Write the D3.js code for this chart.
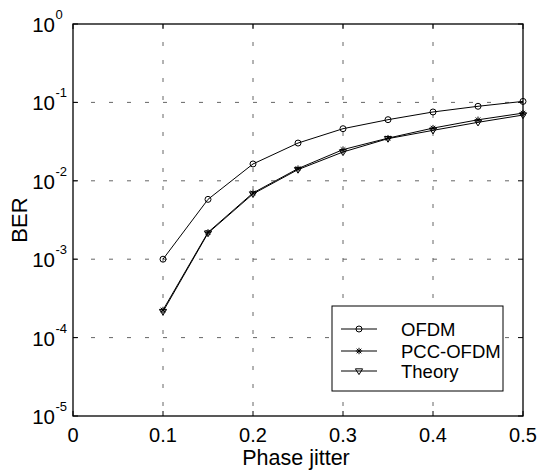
<!DOCTYPE html>
<html>
<head>
<meta charset="utf-8">
<script src="https://cdn.jsdelivr.net/npm/d3@7"></script>
<style>
  body { margin: 0; background: #fff; }
  svg { display: block; }
  text { font-family: "Liberation Sans", Arial, Helvetica, sans-serif; fill: #000; }
</style>
</head>
<body>
<svg id="chart" width="539" height="473"></svg>
<script>
// ---- data ----
const phaseJitter = [0.1, 0.15, 0.2, 0.25, 0.3, 0.35, 0.4, 0.45, 0.5];
const berOFDM     = [1.0e-3, 5.8e-3, 0.0164, 0.0303, 0.0462, 0.0602, 0.0755, 0.0892, 0.103];
const berPCC      = [2.25e-4, 2.2e-3, 7.0e-3, 0.0143, 0.0250, 0.0350, 0.0470, 0.0600, 0.0730];
const berTheory   = [2.15e-4, 2.15e-3, 6.8e-3, 0.0139, 0.0233, 0.0345, 0.0440, 0.0557, 0.0690];
const xTicks = [0, 0.1, 0.2, 0.3, 0.4, 0.5];
const xTickLabels = ["0", "0.1", "0.2", "0.3", "0.4", "0.5"];
const yExponents = [0, -1, -2, -3, -4, -5];
const seriesNames = ["OFDM", "PCC-OFDM", "Theory"];
const xLabel = "Phase jitter";
const yLabel = "BER";

// ---- layout ----
const L = 73, R = 523, T = 24, B = 416;
const svg = d3.select("#chart");
const x = d3.scaleLinear().domain([0, 0.5]).range([L, R]);
const y = d3.scaleLog().domain([1e-5, 1]).range([B, T]);

// grid
const grid = svg.append("g").attr("stroke", "#555").attr("stroke-width", 0.9)
  .attr("stroke-dasharray", "4,14");
xTicks.slice(1, -1).forEach(t => {
  grid.append("line").attr("x1", x(t)).attr("x2", x(t)).attr("y1", T).attr("y2", B);
});
yExponents.slice(1, -1).forEach(e => {
  grid.append("line").attr("x1", L).attr("x2", R).attr("y1", y(Math.pow(10, e))).attr("y2", y(Math.pow(10, e)));
});

// inward ticks on all four sides
const ticks = svg.append("g").attr("stroke", "#000").attr("stroke-width", 1);
xTicks.forEach(t => {
  ticks.append("line").attr("x1", x(t)).attr("x2", x(t)).attr("y1", B).attr("y2", B - 5);
  ticks.append("line").attr("x1", x(t)).attr("x2", x(t)).attr("y1", T).attr("y2", T + 5);
});
yExponents.forEach(e => {
  const yy = y(Math.pow(10, e));
  ticks.append("line").attr("x1", L).attr("x2", L + 5).attr("y1", yy).attr("y2", yy);
  ticks.append("line").attr("x1", R).attr("x2", R - 5).attr("y1", yy).attr("y2", yy);
});

// frame
svg.append("rect").attr("x", L).attr("y", T).attr("width", R - L).attr("height", B - T)
  .attr("fill", "none").attr("stroke", "#000").attr("stroke-width", 1.3);

// x tick labels
xTicks.forEach((t, i) => {
  svg.append("text").attr("x", x(t)).attr("y", 442).attr("text-anchor", "middle")
    .attr("font-size", 20).text(xTickLabels[i]);
});
// y tick labels 10^e
yExponents.forEach(e => {
  const yy = y(Math.pow(10, e));
  svg.append("text").attr("x", 55).attr("y", yy + 8).attr("text-anchor", "end")
    .attr("font-size", 20.5).text("10");
  svg.append("text").attr("x", 55.5).attr("y", yy - 5).attr("text-anchor", "start")
    .attr("font-size", 13).text(String(e));
});

// axis labels
svg.append("text").attr("x", (L + R) / 2 - 2).attr("y", 465).attr("text-anchor", "middle")
  .attr("font-size", 21.5).text(xLabel);
svg.append("text").attr("transform", `translate(27,${(T + B) / 2}) rotate(-90)`)
  .attr("text-anchor", "middle").attr("font-size", 22).text(yLabel);

// markers
function drawCircle(g, cx, cy) {
  g.append("circle").attr("cx", cx).attr("cy", cy).attr("r", 3)
    .attr("fill", "none").attr("stroke", "#000").attr("stroke-width", 1);
}
function drawStar(g, cx, cy) {
  const s = 3.2, d = s * 0.72;
  const p = `M${cx - s},${cy}L${cx + s},${cy}M${cx},${cy - s}L${cx},${cy + s}` +
            `M${cx - d},${cy - d}L${cx + d},${cy + d}M${cx - d},${cy + d}L${cx + d},${cy - d}`;
  g.append("path").attr("d", p).attr("stroke", "#000").attr("stroke-width", 1).attr("fill", "none");
}
function drawTri(g, cx, cy) {
  const w = 3.6, h = 3.6;
  const p = `M${cx - w},${cy - h * 0.6}L${cx + w},${cy - h * 0.6}L${cx},${cy + h}Z`;
  g.append("path").attr("d", p).attr("stroke", "#000").attr("stroke-width", 1).attr("fill", "none");
}

const series = [
  { vals: berOFDM, mark: drawCircle },
  { vals: berPCC, mark: drawStar },
  { vals: berTheory, mark: drawTri }
];
const line = d3.line().x(d => x(d[0])).y(d => y(d[1]));
const plot = svg.append("g");
series.forEach(s => {
  const pts = phaseJitter.map((p, i) => [p, s.vals[i]]);
  plot.append("path").attr("d", line(pts)).attr("fill", "none")
    .attr("stroke", "#000").attr("stroke-width", 1);
  pts.forEach(p => s.mark(plot, x(p[0]), y(p[1])));
});

// legend
const lg = svg.append("g");
lg.append("rect").attr("x", 332).attr("y", 306).attr("width", 171).attr("height", 85)
  .attr("fill", "#fff").attr("stroke", "#000").attr("stroke-width", 1);
const rows = [329, 351, 371];
series.forEach((s, i) => {
  lg.append("line").attr("x1", 341).attr("x2", 377).attr("y1", rows[i]).attr("y2", rows[i])
    .attr("stroke", "#000").attr("stroke-width", 1);
  s.mark(lg, 359, rows[i]);
  lg.append("text").attr("x", 401).attr("y", rows[i] + 6.5).attr("font-size", 18.5).text(seriesNames[i]);
});
</script>
</body>
</html>
